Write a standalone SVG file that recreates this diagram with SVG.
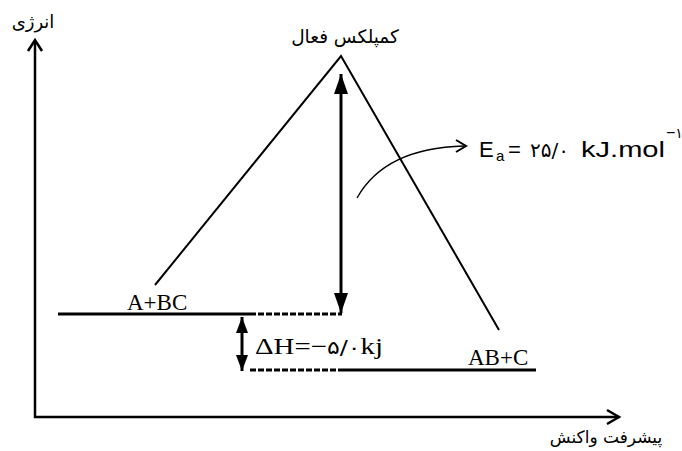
<svg xmlns="http://www.w3.org/2000/svg" width="682" height="451" viewBox="0 0 682 451">
<defs>
<style>
.ax{stroke:#000;stroke-width:2.5;fill:none}
.ln{stroke:#000;stroke-width:2;fill:none}
.lv{stroke:#000;stroke-width:3;fill:none}
.dash{stroke:#000;stroke-width:3;fill:none;stroke-dasharray:6 2}
.fa{font-family:"DejaVu Sans","Noto Sans",sans-serif;fill:#000}
.tm{font-family:"Liberation Serif","Times New Roman",serif;fill:#000}
.sn{font-family:"Liberation Sans",Arial,sans-serif;fill:#000}
</style>
<marker id="hd" viewBox="0 0 20 14" refX="20" refY="7" markerWidth="20" markerHeight="14" markerUnits="userSpaceOnUse" orient="auto-start-reverse">
<path d="M0,0 L20,7 L0,14 Z" fill="#000"/>
</marker>
<marker id="hs" viewBox="0 0 16 12" refX="16" refY="6" markerWidth="16" markerHeight="12" markerUnits="userSpaceOnUse" orient="auto-start-reverse">
<path d="M0,0 L16,6 L0,12 Z" fill="#000"/>
</marker>
</defs>
<rect width="682" height="451" fill="#fff"/>
<g id="axes">
<path class="ax" d="M35,41 L35,417 L619,417"/>
<path class="ax" d="M28,51 L35,40 L42,51"/>
<path class="ax" d="M607,410 L619,417 L607,424"/>
</g>
<g id="curve">
<path class="ln" d="M155,285 L341,56 L499,330"/>
</g>
<g id="levels">
<path class="lv" d="M58,314 L250,314"/>
<path class="dash" d="M250,314 L342,314"/>
<path class="dash" d="M250,370 L342,370"/>
<path class="lv" d="M342,370 L536,370"/>
</g>
<g id="connectors">
<path d="M341,74 L341,313" stroke="#000" stroke-width="3" marker-start="url(#hd)" marker-end="url(#hd)"/>
<path d="M242,317 L242,371" stroke="#000" stroke-width="3" marker-start="url(#hs)" marker-end="url(#hs)"/>
<path d="M357,198 Q385,148 464,146" stroke="#000" stroke-width="1.3" fill="none"/>
<path d="M456,140 L466,146 L456,152" stroke="#000" stroke-width="2" fill="none"/>
</g>
<g id="labels">
<text class="fa" x="33" y="28" font-size="18" text-anchor="middle">انرژی</text>
<text class="fa" x="345" y="43" font-size="18.5" text-anchor="middle">کمپلکس فعال</text>
<text class="fa" x="606" y="443" font-size="17" text-anchor="middle">پیشرفت واکنش</text>
<text class="tm" x="127" y="310" font-size="23">A+BC</text>
<text class="tm" x="468" y="365" font-size="23">AB+C</text>
<text class="tm" x="255" y="354" font-size="23" textLength="128" lengthAdjust="spacingAndGlyphs">ΔH=−<tspan class="fa" font-size="19">۵/۰</tspan>kj</text>
<text class="sn" x="479" y="157" font-size="22">E</text>
<text class="sn" x="496" y="161" font-size="15">a</text>
<text class="sn" x="508" y="157" font-size="22">=</text>
<text class="fa" x="530" y="157" font-size="20">۲۵/۰</text>
<text class="sn" x="581" y="157" font-size="22" textLength="84" lengthAdjust="spacingAndGlyphs">kJ.mol</text>
<text class="sn" x="666" y="138" font-size="16">−<tspan class="fa" font-size="14">۱</tspan></text>
</g>
</svg>
